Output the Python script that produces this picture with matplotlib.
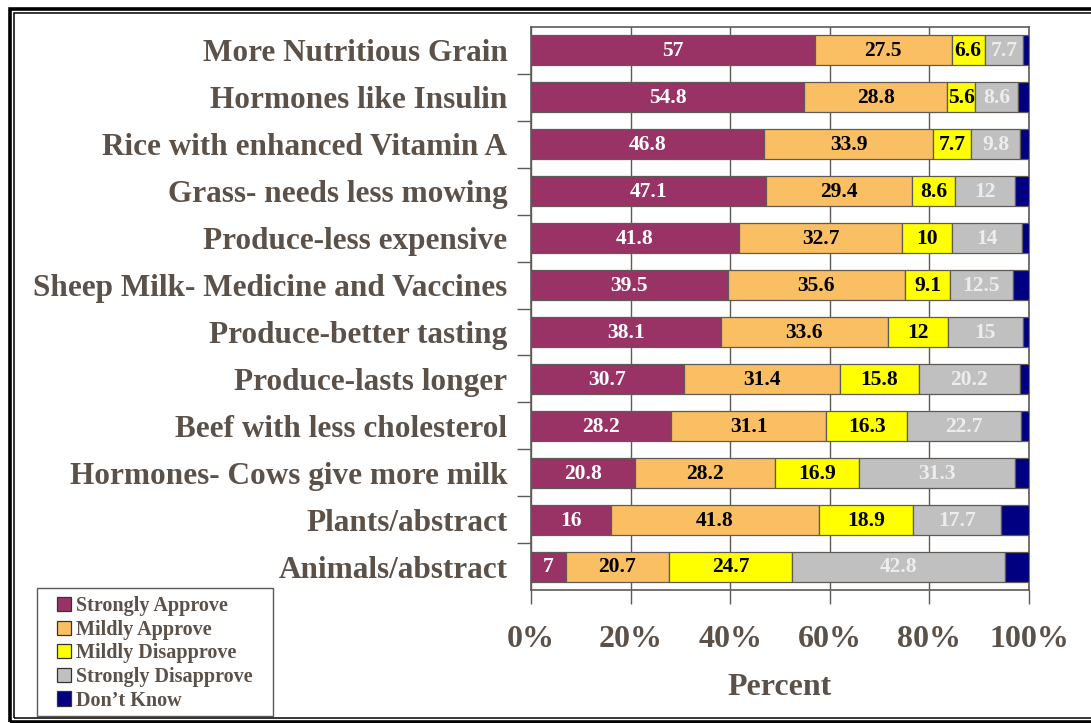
import matplotlib.pyplot as plt
import numpy as np
from matplotlib.patches import Rectangle

categories = ["More Nutritious Grain", "Hormones like Insulin", "Rice with enhanced Vitamin A",
              "Grass- needs less mowing", "Produce-less expensive", "Sheep Milk- Medicine and Vaccines",
              "Produce-better tasting", "Produce-lasts longer", "Beef with less cholesterol",
              "Hormones- Cows give more milk", "Plants/abstract", "Animals/abstract"]
strongly_approve = [57, 54.8, 46.8, 47.1, 41.8, 39.5, 38.1, 30.7, 28.2, 20.8, 16, 7]
mildly_approve = [27.5, 28.8, 33.9, 29.4, 32.7, 35.6, 33.6, 31.4, 31.1, 28.2, 41.8, 20.7]
mildly_disapprove = [6.6, 5.6, 7.7, 8.6, 10, 9.1, 12, 15.8, 16.3, 16.9, 18.9, 24.7]
strongly_disapprove = [7.7, 8.6, 9.8, 12, 14, 12.5, 15, 20.2, 22.7, 31.3, 17.7, 42.8]
dont_know = [1.2, 2.2, 1.8, 2.9, 1.5, 3.3, 1.3, 1.9, 1.7, 2.8, 5.6, 4.8]

series = ["Strongly Approve", "Mildly Approve", "Mildly Disapprove", "Strongly Disapprove", "Don\u2019t Know"]
colors = ["#993366", "#F9BF62", "#FFFF00", "#C0C0C0", "#000080"]
label_colors = ["white", "black", "black", "#EDEDED", None]
xticks = [0, 20, 40, 60, 80, 100]

TXT = "#5C5148"
EDGE = "#5F5A55"
plt.rcParams['font.family'] = ['Liberation Serif', 'DejaVu Serif']
plt.rcParams['font.weight'] = 'bold'

W, H = 1091, 723
fig = plt.figure(figsize=(10.91, 7.23), dpi=100)
ax = fig.add_axes([531 / W, 1 - 590 / H, 498 / W, 563 / H])

data = [strongly_approve, mildly_approve, mildly_disapprove, strongly_disapprove, dont_know]
y = np.arange(len(categories))
left = np.zeros(len(categories))
for vals, name, col, lc in zip(data, series, colors, label_colors):
    vals = np.array(vals, dtype=float)
    ax.barh(y, vals, left=left, height=0.64, color=col, edgecolor=EDGE, linewidth=0.9,
            label=name, zorder=3)
    if lc is not None:
        for yi, l, v in zip(y, left, vals):
            ax.text(l + v / 2, yi + 0.02, f"{v:g}", ha='center', va='center', color=lc,
                    fontsize=15.5, fontweight='bold', zorder=4)
    left += vals

ax.set_xlim(0, 100)
ax.set_ylim(len(categories) - 0.5, -0.5)
ax.set_xticks(xticks)
ax.set_xticklabels([f"{t}%" for t in xticks], fontsize=23, color=TXT, fontweight='bold')
ax.tick_params(axis='x', length=10, width=1, color=EDGE, pad=15, direction='out')
ax.set_yticks(y)
ax.set_yticklabels(categories, fontsize=22.5, color=TXT, fontweight='bold')
ax.tick_params(axis='y', which='major', length=0, pad=17)
ax.set_yticks(np.arange(-0.5, len(categories), 1)[1:-1], minor=True)
ax.tick_params(axis='y', which='minor', length=10, width=1, color=EDGE, direction='out')
ax.grid(axis='x', color=EDGE, linewidth=1, zorder=0)
for s in ax.spines.values():
    s.set_color(EDGE)
    s.set_linewidth(1.2)
ax.set_xlabel("Percent", fontsize=23, color=TXT, fontweight='bold', labelpad=14)

# legend box drawn separately so the padding matches
fig.add_artist(Rectangle((37 / W, 1 - 716 / H), 236 / W, 128 / H, transform=fig.transFigure,
                         fill=False, edgecolor=EDGE, linewidth=1, zorder=-1))
handles, labels = ax.get_legend_handles_labels()
leg = fig.legend(handles, labels, loc='upper left', bbox_to_anchor=(57 / W, 1 - 596 / H),
                 fontsize=14.5, frameon=False, handlelength=0.7, handleheight=0.7, handletextpad=0.25,
                 labelspacing=0.18, borderpad=0, borderaxespad=0)
for t in leg.get_texts():
    t.set_color(TXT)
    t.set_fontweight('bold')
for h in leg.legend_handles:
    h.set_edgecolor('#333333')

# double page frame
fig.add_artist(Rectangle((10 / W, 1 - 721.5 / H), 1.2, (721.5 - 8.5) / H, transform=fig.transFigure,
                         fill=False, edgecolor='black', linewidth=2.6))
fig.add_artist(Rectangle((13.8 / W, 1 - 717.5 / H), 1.2, (717.5 - 12.8) / H, transform=fig.transFigure,
                         fill=False, edgecolor='black', linewidth=1.1))

fig.savefig("out.png", dpi=100)
